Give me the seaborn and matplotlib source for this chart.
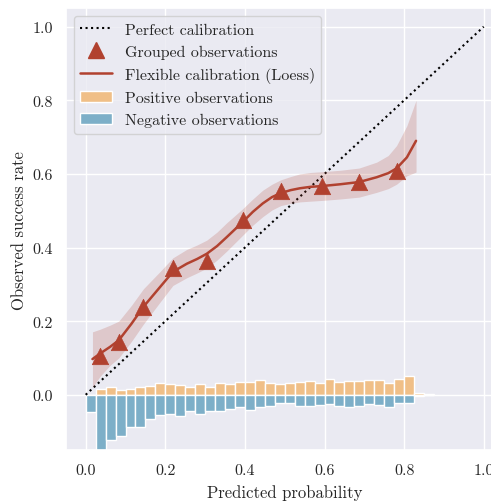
import numpy as np
import matplotlib
matplotlib.use("Agg")
import matplotlib.pyplot as plt
import seaborn as sns
from matplotlib.lines import Line2D
from matplotlib.patches import Patch

# ---------------- data ----------------
bin_width = 0.025
bin_left = [0.000, 0.025, 0.050, 0.075, 0.100, 0.125, 0.150, 0.175, 0.200, 0.225,
            0.250, 0.275, 0.300, 0.325, 0.350, 0.375, 0.400, 0.425, 0.450, 0.475,
            0.500, 0.525, 0.550, 0.575, 0.600, 0.625, 0.650, 0.675, 0.700, 0.725,
            0.750, 0.775, 0.800, 0.825, 0.850]
pos_heights = [0.000, 0.015, 0.021, 0.013, 0.017, 0.022, 0.024, 0.031, 0.029, 0.027,
               0.022, 0.029, 0.021, 0.031, 0.028, 0.034, 0.034, 0.040, 0.031, 0.028,
               0.033, 0.036, 0.038, 0.033, 0.043, 0.036, 0.038, 0.038, 0.041, 0.040,
               0.033, 0.044, 0.051, 0.004, 0.002]
neg_heights = [0.048, 0.250, 0.124, 0.113, 0.087, 0.087, 0.067, 0.054, 0.052, 0.057,
               0.045, 0.053, 0.043, 0.045, 0.038, 0.034, 0.040, 0.032, 0.031, 0.021,
               0.023, 0.030, 0.030, 0.027, 0.024, 0.030, 0.032, 0.030, 0.024, 0.027,
               0.032, 0.023, 0.021, 0.002, 0.001]

group_x = [0.036, 0.083, 0.145, 0.219, 0.304, 0.394, 0.490, 0.593, 0.687, 0.781]
group_y = [0.106, 0.144, 0.239, 0.344, 0.364, 0.475, 0.554, 0.568, 0.578, 0.609]

loess_x = [0.017, 0.036, 0.061, 0.083, 0.115, 0.145, 0.187, 0.219, 0.254, 0.280,
           0.304, 0.330, 0.354, 0.394, 0.420, 0.445, 0.468, 0.490, 0.515, 0.538,
           0.565, 0.593, 0.640, 0.687, 0.731, 0.760, 0.781, 0.807, 0.830]
loess_y = [0.097, 0.112, 0.130, 0.148, 0.193, 0.239, 0.293, 0.334, 0.356, 0.369,
           0.383, 0.404, 0.428, 0.469, 0.497, 0.520, 0.537, 0.548, 0.556, 0.561,
           0.565, 0.567, 0.572, 0.578, 0.591, 0.602, 0.615, 0.645, 0.690]
loess_hi = [0.171, 0.178, 0.189, 0.200, 0.243, 0.288, 0.335, 0.372, 0.395, 0.407,
            0.420, 0.442, 0.467, 0.505, 0.532, 0.556, 0.572, 0.584, 0.593, 0.600,
            0.604, 0.606, 0.610, 0.616, 0.632, 0.650, 0.677, 0.731, 0.800]
loess_lo = [0.020, 0.050, 0.080, 0.100, 0.145, 0.192, 0.252, 0.297, 0.318, 0.331,
            0.344, 0.366, 0.390, 0.433, 0.461, 0.484, 0.502, 0.514, 0.520, 0.524,
            0.526, 0.528, 0.532, 0.537, 0.550, 0.560, 0.572, 0.595, 0.605]

diag = [0.0, 1.0]

xticks = [0.0, 0.2, 0.4, 0.6, 0.8, 1.0]
yticks = [0.0, 0.2, 0.4, 0.6, 0.8, 1.0]

labels = ["Perfect calibration", "Grouped observations",
          "Flexible calibration (Loess)", "Positive observations",
          "Negative observations"]

# ---------------- style ----------------
sns.set_theme(style="darkgrid", context="notebook")
plt.rcParams["font.family"] = ["cmr10", "DejaVu Serif"]
plt.rcParams["mathtext.fontset"] = "cm"
plt.rcParams["axes.unicode_minus"] = False
plt.rcParams["axes.formatter.use_mathtext"] = True

RED = "#B1412F"
ORANGE = "#F0BF87"
BLUE = "#7DAFC8"

fig = plt.figure(figsize=(4.91, 5.02), dpi=100)
W, H = 491, 502
ax = fig.add_axes([65.8 / W, 1 - 451 / H, (503.6 - 65.8) / W, (451 - 9.3) / H])

# histogram (positive up, negative down)
ax.bar(bin_left, pos_heights, width=bin_width, align="edge", color=ORANGE,
       edgecolor="white", linewidth=1, zorder=2)
ax.bar(bin_left, [-h for h in neg_heights], width=bin_width, align="edge",
       color=BLUE, edgecolor="white", linewidth=1, zorder=2)

# perfect calibration
ax.plot(diag, diag, linestyle=":", color="black", linewidth=1.5, zorder=3)

# loess band + line
ax.fill_between(loess_x, loess_lo, loess_hi, color=RED, alpha=0.2,
                linewidth=0, zorder=3)
sns.lineplot(x=loess_x, y=loess_y, color=RED, linewidth=1.8, ax=ax, zorder=4)

# grouped observations
sns.scatterplot(x=group_x, y=group_y, marker="^", s=140, color=RED,
                edgecolor=RED, linewidth=0.5, ax=ax, zorder=5)

ax.set_xlim(-0.05, 1.05)
ax.set_ylim(-0.15, 1.05)
ax.set_xticks(xticks)
ax.set_yticks(yticks)
ax.set_xticklabels([f"{t:.1f}" for t in xticks])
ax.set_yticklabels([f"{t:.1f}" for t in yticks])
ax.tick_params(labelsize=11.5)
ax.set_xlabel("Predicted probability", fontsize=12, labelpad=5)
ax.set_ylabel("Observed success rate", fontsize=12)

handles = [
    Line2D([0], [0], linestyle=":", color="black", linewidth=1.5),
    Line2D([0], [0], linestyle="none", marker="^", markersize=12, color=RED),
    Line2D([0], [0], color=RED, linewidth=1.8),
    Patch(facecolor=ORANGE, edgecolor="white"),
    Patch(facecolor=BLUE, edgecolor="white"),
]
ax.legend(handles, labels, loc="upper left", fontsize=11.5)

fig.savefig("out.png", dpi=100)
